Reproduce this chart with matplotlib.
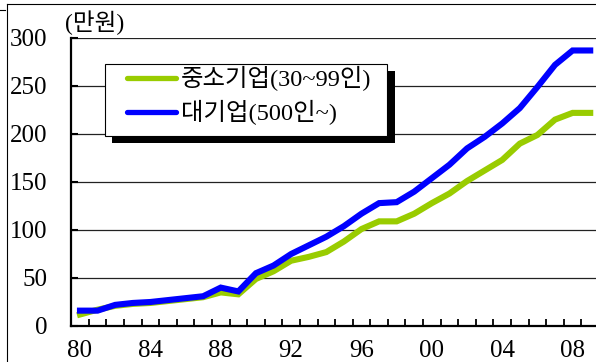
import matplotlib.pyplot as plt
from matplotlib.lines import Line2D
from matplotlib.patches import Rectangle
import numpy as np

# 월평균 임금 (만원), 1980-2009
years = list(range(1980, 2010))
sme = [12, 17, 21, 23, 24, 26, 28, 30, 35, 33, 49, 57, 68, 72, 77, 88, 101, 109, 109, 117,
       128, 138, 151, 162, 173, 190, 199, 215, 222, 222]
large = [16, 16, 22, 24, 25, 27, 29, 31, 40, 36, 55, 63, 75, 84, 93, 104, 117, 128, 129, 140,
         154, 168, 185, 197, 211, 227, 249, 272, 287, 287]
sme_label = "중소기업(30~99인)"
large_label = "대기업(500인~)"
unit_label = "(만원)"
yticks = [0, 50, 100, 150, 200, 250, 300]

SME_COLOR = '#99cc00'
LARGE_COLOR = '#0000ff'

W, H = 596, 362
plt.rcParams['font.family'] = ['Liberation Serif', 'Noto Sans CJK KR']

fig = plt.figure(figsize=(W / 100, H / 100), dpi=100)


def fx(px):
    return px / W


def fy(py):
    return 1 - py / H


# plot area in pixels: left 71, right 599 (cropped), top 38, bottom 326
ax = fig.add_axes([fx(71.2), fy(326), (599 - 71.2) / W, (326 - 38) / H])

x = np.arange(len(years))
ax.plot(x, sme, color=SME_COLOR, lw=4.4, solid_joinstyle='miter', zorder=3)
ax.plot(x, large, color=LARGE_COLOR, lw=4.4, solid_joinstyle='miter', zorder=4)

ax.set_xlim(-0.5, len(years) - 0.5)
ax.set_ylim(0, 300)

# gridlines
for v in yticks[1:]:
    ax.axhline(v, color='#222222', lw=0.9, zorder=1)

ax.set_yticks(yticks)
ax.set_yticklabels([str(v) for v in yticks])
ax.tick_params(axis='y', direction='in', length=5, width=1.5, pad=17, labelsize=18)

lab_idx = [i for i, y in enumerate(years) if y % 4 == 0]
ax.set_xticks(lab_idx)
ax.set_xticklabels([f"{years[i] % 100:02d}" for i in lab_idx])
ax.set_xticks(np.arange(0.5, len(years) - 0.5, 1), minor=True)
ax.tick_params(axis='x', which='major', length=0, pad=10, labelsize=18)
ax.tick_params(axis='x', which='minor', direction='in', length=5, width=1.3)

for s in ['top', 'right']:
    ax.spines[s].set_visible(False)
ax.spines['left'].set_linewidth(1.6)
ax.spines['bottom'].set_linewidth(1.6)

# legend box with black drop shadow
fig.add_artist(Rectangle((fx(112), fy(143)), (395 - 112) / W, (143 - 71) / H,
                         facecolor='black', edgecolor='none', zorder=5))
fig.add_artist(Rectangle((fx(105), fy(136)), (387 - 105) / W, (136 - 64) / H,
                         facecolor='white', edgecolor='black', lw=0.8, zorder=6))
for yy, col, lab in [(78, SME_COLOR, sme_label), (112, LARGE_COLOR, large_label)]:
    fig.add_artist(Line2D([fx(127), fx(176)], [fy(yy), fy(yy)], color=col, lw=3.8,
                          solid_capstyle='round', zorder=7))
    fig.text(fx(181), fy(yy), lab, fontsize=17.6, ha='left', va='center', zorder=7)

fig.text(fx(65), fy(23), unit_label, fontsize=17, ha='left', va='center')

# outer frame
fig.add_artist(Line2D([fx(7), 1], [fy(4), fy(4)], color='black', lw=0.8))
fig.add_artist(Line2D([fx(7), fx(7)], [0, fy(4)], color='black', lw=0.8))
fig.add_artist(Line2D([0, fx(5)], [fy(10), fy(10)], color='black', lw=0.8))

fig.savefig('out.png', dpi=100)
